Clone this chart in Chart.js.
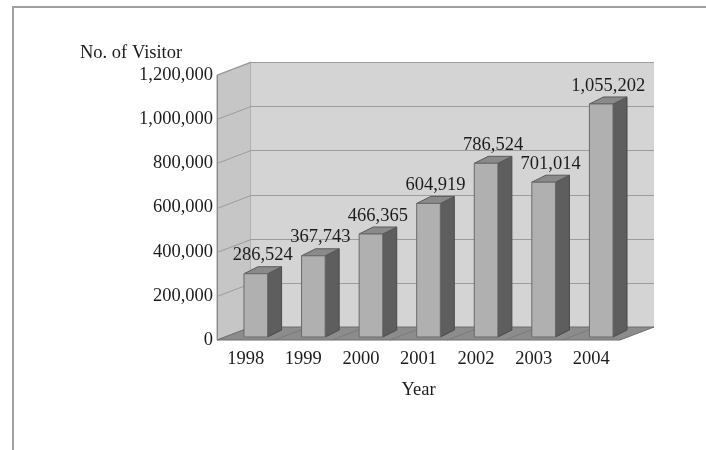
<!DOCTYPE html>
<html>
<head>
<meta charset="utf-8">
<script src="https://cdn.jsdelivr.net/npm/chart.js@4/dist/chart.umd.min.js"></script>
<style>
  body { margin: 0; background: #fff; }
  .wrap { position: relative; width: 706px; height: 450px; }
  .frame { position: absolute; left: 12px; top: 6px; right: 0; bottom: 0;
           border-top: 2px solid #a0a0a0; border-left: 2px solid #a0a0a0; }
  canvas { position: absolute; left: 0; top: 0; }
</style>
</head>
<body>
<div class="wrap">
  <div class="frame"></div>
  <canvas id="grafico" width="706" height="450"></canvas>
</div>
<script>
const anos = ['1998', '1999', '2000', '2001', '2002', '2003', '2004'];
const visitantes = [286524, 367743, 466365, 604919, 786524, 701014, 1055202];
const tituloY = 'No. of Visitor';
const tituloX = 'Year';

const fonte = { family: "'Liberation Serif', 'Times New Roman', serif", size: 18.5 };
const corTexto = '#1c1c1c';

// profundidade do "cubo" e das barras
const prof = { dx: 34, dy: -13 };
const barra = { ox: 10, oy: -3, dx: 14, dy: -7 };

const fmt = v => v.toLocaleString('en-US');

function poly(ctx, pts, fill, stroke) {
  ctx.beginPath();
  ctx.moveTo(pts[0][0], pts[0][1]);
  for (let i = 1; i < pts.length; i++) ctx.lineTo(pts[i][0], pts[i][1]);
  ctx.closePath();
  ctx.fillStyle = fill;
  ctx.fill();
  if (stroke) { ctx.strokeStyle = stroke; ctx.lineWidth = 1; ctx.stroke(); }
}

const cubo3d = {
  id: 'cubo3d',
  beforeDatasetsDraw(chart) {
    const { ctx, chartArea: a, scales } = chart;
    const y = scales.y;
    ctx.save();
    // parede esquerda
    poly(ctx, [[a.left, a.top], [a.left + prof.dx, a.top + prof.dy],
               [a.left + prof.dx, a.bottom + prof.dy], [a.left, a.bottom]], '#c6c6c6', '#9a9a9a');
    // parede do fundo
    poly(ctx, [[a.left + prof.dx, a.top + prof.dy], [a.right + prof.dx, a.top + prof.dy],
               [a.right + prof.dx, a.bottom + prof.dy], [a.left + prof.dx, a.bottom + prof.dy]], '#d4d4d4');
    // linhas de grade
    ctx.strokeStyle = '#9c9c9c';
    ctx.lineWidth = 1;
    y.ticks.forEach(t => {
      const py = Math.round(y.getPixelForValue(t.value)) + 0.5;
      ctx.beginPath();
      ctx.moveTo(a.left, py);
      ctx.lineTo(a.left + prof.dx, py + prof.dy);
      ctx.lineTo(a.right + prof.dx, py + prof.dy);
      ctx.stroke();
    });
    // piso
    poly(ctx, [[a.left, a.bottom], [a.right, a.bottom],
               [a.right + prof.dx, a.bottom + prof.dy], [a.left + prof.dx, a.bottom + prof.dy]], '#8c8c8c', '#6e6e6e');
    const passo = (a.right - a.left) / anos.length;
    ctx.strokeStyle = '#7a7a7a';
    for (let i = 1; i < anos.length; i++) {
      const bx = a.left + passo * i;
      ctx.beginPath();
      ctx.moveTo(bx, a.bottom);
      ctx.lineTo(bx + prof.dx, a.bottom + prof.dy);
      ctx.stroke();
    }
    // eixo frontal
    ctx.strokeStyle = '#8a8a8a';
    ctx.beginPath();
    ctx.moveTo(a.left + 0.5, a.top);
    ctx.lineTo(a.left + 0.5, a.bottom);
    ctx.stroke();
    ctx.restore();
  },
  afterDatasetsDraw(chart) {
    const { ctx } = chart;
    const meta = chart.getDatasetMeta(0);
    ctx.save();
    meta.data.forEach((el, i) => {
      const p = el.getProps(['x', 'y', 'base', 'width'], true);
      const l = p.x - p.width / 2 + barra.ox, r = p.x + p.width / 2 + barra.ox;
      const t = p.y + barra.oy, b = p.base + barra.oy;
      poly(ctx, [[r, t], [r + barra.dx, t + barra.dy], [r + barra.dx, b + barra.dy], [r, b]], '#5e5e5e', '#4a4a4a');
      poly(ctx, [[l, t], [l + barra.dx, t + barra.dy], [r + barra.dx, t + barra.dy], [r, t]], '#8a8a8a', '#5a5a5a');
      poly(ctx, [[l, t], [r, t], [r, b], [l, b]], '#b0b0b0', '#6a6a6a');
      // rótulo do valor
      ctx.font = `${fonte.size}px ${fonte.family}`;
      ctx.fillStyle = corTexto;
      ctx.textAlign = 'center';
      ctx.textBaseline = 'bottom';
      ctx.fillText(fmt(visitantes[i]), (l + r + barra.dx) / 2, t + barra.dy - 2);
    });
    // título do eixo y, horizontal acima do eixo
    ctx.textAlign = 'left';
    ctx.textBaseline = 'middle';
    ctx.fillText(tituloY, 80, 53);
    ctx.restore();
  }
};

new Chart(document.getElementById('grafico'), {
  type: 'bar',
  data: {
    labels: anos,
    datasets: [{
      label: tituloY,
      data: visitantes,
      backgroundColor: 'rgba(0,0,0,0)',
      categoryPercentage: 1,
      barPercentage: 0.41
    }]
  },
  options: {
    responsive: false,
    animation: false,
    layout: { padding: { top: 75, right: 86, left: 0, bottom: 0 } },
    plugins: { legend: { display: false }, tooltip: { enabled: false } },
    scales: {
      x: {
        grid: { display: false },
        border: { display: false },
        ticks: { font: fonte, color: corTexto, padding: 0, maxRotation: 0 },
        title: { display: true, text: tituloX, font: fonte, color: corTexto, padding: { top: 4, bottom: 49 } },
        afterFit(s) { s.height = 110; }
      },
      y: {
        min: 0,
        max: 1200000,
        grid: { display: false },
        border: { display: false },
        ticks: { stepSize: 200000, font: fonte, color: corTexto, padding: -4, callback: v => fmt(v) },
        afterFit(s) { s.width = 217; }
      }
    }
  },
  plugins: [cubo3d]
});
</script>
</body>
</html>
